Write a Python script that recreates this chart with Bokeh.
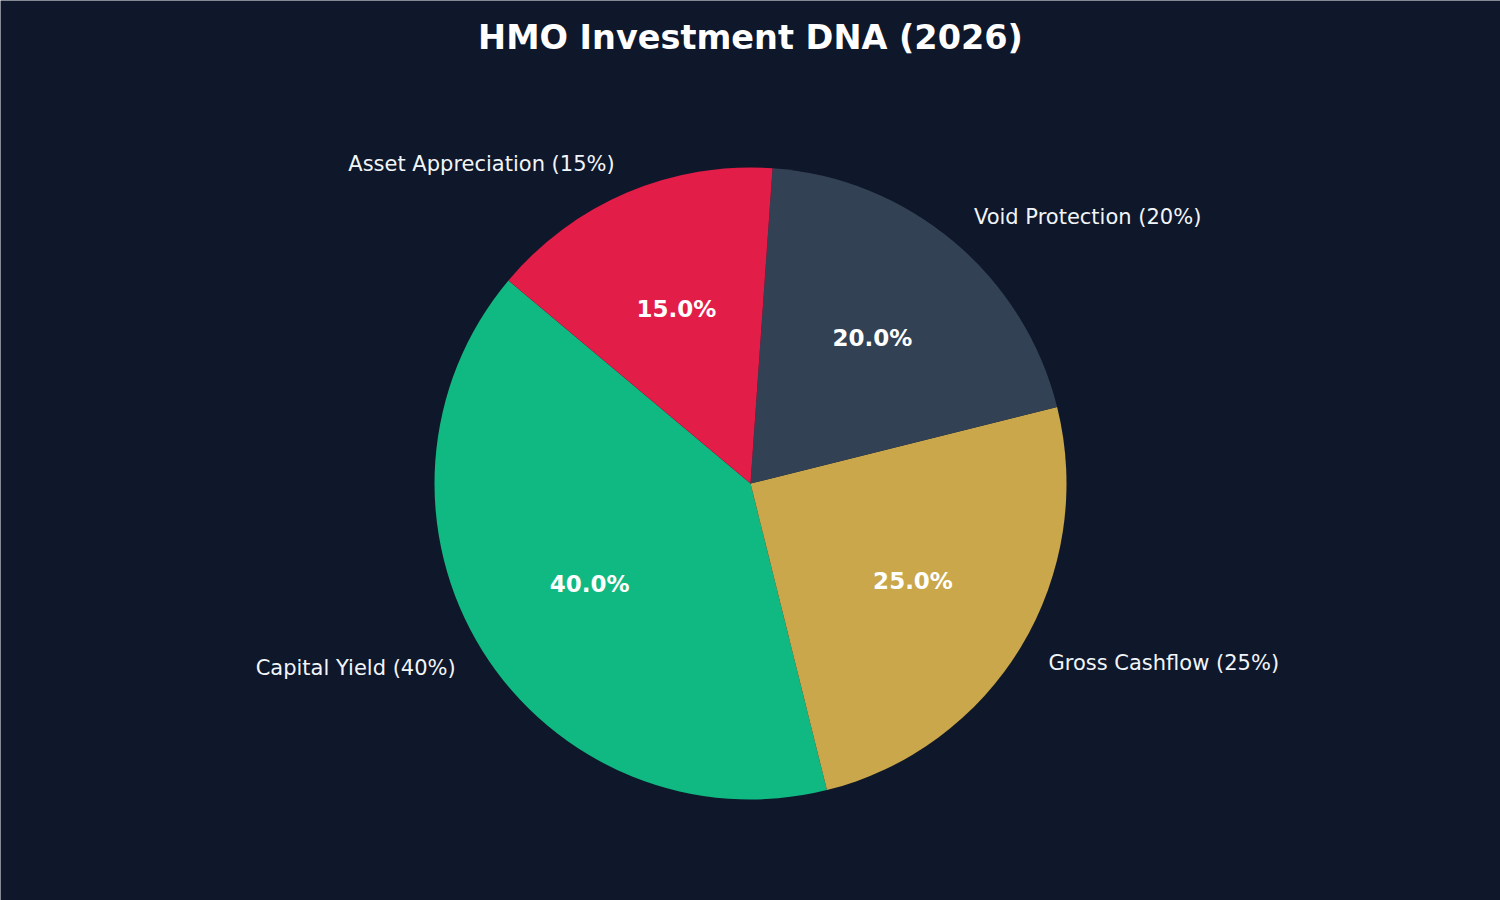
import numpy as np
from bokeh.plotting import figure
from bokeh.models import Range1d, ColumnDataSource
from bokeh.core.properties import value
from bokeh.embed import file_html
from bokeh.resources import INLINE

categories = ["Capital Yield (40%)", "Gross Cashflow (25%)", "Void Protection (20%)", "Asset Appreciation (15%)"]
values = [40, 25, 20, 15]
colors = ["#10b981", "#c9a74a", "#334155", "#e11d48"]
title_text = "HMO Investment DNA (2026)"

BG = "#0f172a"
R = 316.0
start_deg = 140.0

vals = np.array(values, dtype=float)
frac = vals / vals.sum()
cum = np.concatenate([[0], np.cumsum(frac)])
starts = np.deg2rad(start_deg + 360 * cum[:-1])
ends = np.deg2rad(start_deg + 360 * cum[1:])
mids = (starts + ends) / 2

p = figure(width=1500, height=900, output_backend="svg", toolbar_location=None,
           x_range=Range1d(-750 / R, 750 / R), y_range=Range1d(-417 / R, 483 / R),
           min_border=0, min_border_left=0, min_border_right=0, min_border_top=0, min_border_bottom=0)
p.axis.visible = False
p.grid.visible = False
p.outline_line_color = None
p.background_fill_color = BG
p.border_fill_color = BG

src = ColumnDataSource(dict(start=starts, end=ends, color=colors, name=categories))
p.wedge(x=0, y=0, radius=1, start_angle="start", end_angle="end", direction="anticlock",
        fill_color="color", line_color=None, source=src)

lx = 1.1 * np.cos(mids)
ly = 1.1 * np.sin(mids)
align = ["left" if x > 0 else "right" for x in lx]
lsrc = ColumnDataSource(dict(x=lx, y=ly, t=categories, a=align))
p.text(x="x", y="y", text="t", text_align="a", text_baseline="middle",
       text_font=value("DejaVu Sans"), text_font_size="21px", text_color="#f1f5f9", source=lsrc)

px = 0.6 * np.cos(mids)
py = 0.6 * np.sin(mids)
pct = ["%.1f%%" % (f * 100) for f in frac]
psrc = ColumnDataSource(dict(x=px, y=py, t=pct))
p.text(x="x", y="y", text="t", text_align="center", text_baseline="middle",
       text_font=value("DejaVu Sans"), text_font_size="23px", text_font_style="bold",
       text_color="white", source=psrc)

p.text(x=[0], y=[(483 - 37) / R], text=[title_text], text_align="center", text_baseline="middle",
       text_font=value("DejaVu Sans"), text_font_size="33.5px", text_font_style="bold",
       text_color="white")

open("out.html", "w").write(file_html(p, INLINE))
